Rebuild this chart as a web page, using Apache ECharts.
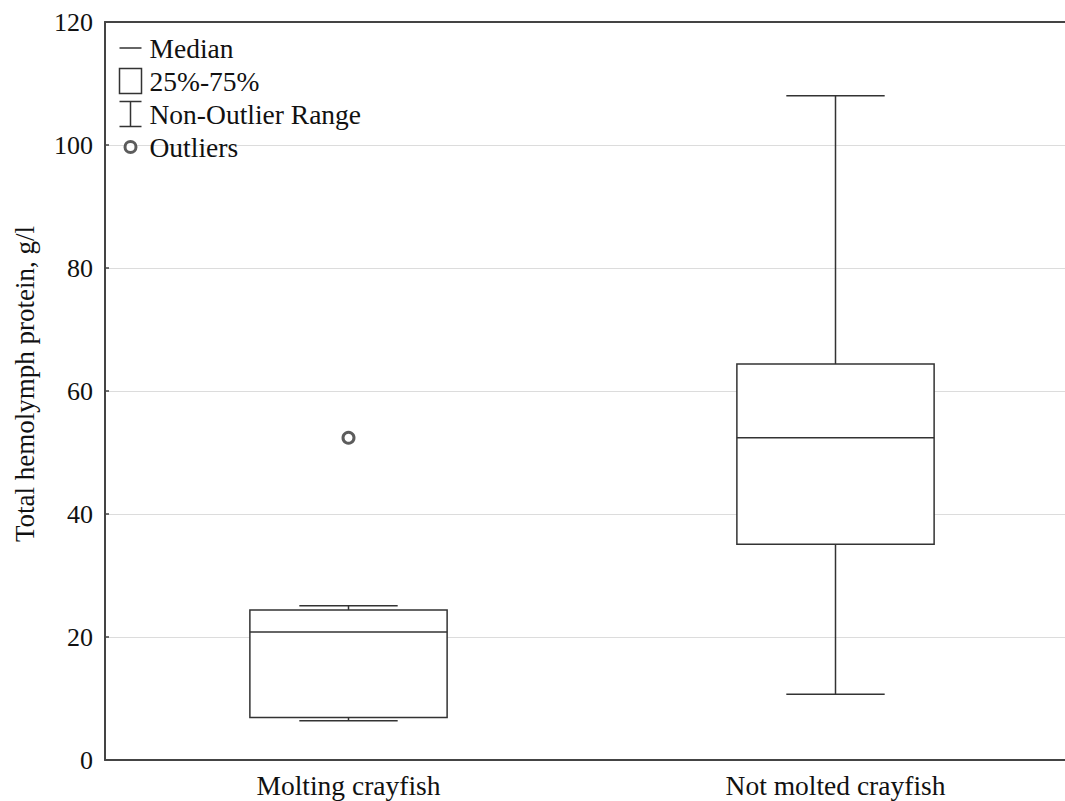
<!DOCTYPE html>
<html>
<head>
<meta charset="utf-8">
<script src="https://cdn.jsdelivr.net/npm/echarts@6/dist/echarts.min.js"></script>
<style>html,body{margin:0;padding:0;background:#fff;overflow:hidden;width:1065px;height:801px}#c{width:1079px;height:801px}</style>
</head>
<body>
<div id="c"></div>
<script>
// ---- data ----
var categories = ['Molting crayfish', 'Not molted crayfish'];
var lowWhisker = [6.4, 10.7];
var q1 = [6.9, 35.1];
var median = [20.8, 52.4];
var q3 = [24.4, 64.4];
var highWhisker = [25.1, 108.0];
var outlierCategory = [0];
var outlierValue = [52.4];
var yTicks = [0, 20, 40, 60, 80, 100, 120];

var FONT = 'Liberation Serif';
var INK = '#333';

var boxData = categories.map(function (c, i) {
  return [i, lowWhisker[i], q1[i], median[i], q3[i], highWhisker[i]];
});
var outlierData = outlierCategory.map(function (c, i) { return [c, outlierValue[i]]; });

function geom(api) {
  var cat = api.value(0);
  var band = api.size([1, 0])[0];
  return {
    cx: api.coord([cat, 0])[0],
    boxHalf: band * 0.2025,
    capHalf: band * 0.101,
    yLow: api.coord([cat, api.value(1)])[1],
    yQ1: api.coord([cat, api.value(2)])[1],
    yMed: api.coord([cat, api.value(3)])[1],
    yQ3: api.coord([cat, api.value(4)])[1],
    yHigh: api.coord([cat, api.value(5)])[1]
  };
}
var lineStyle = { stroke: INK, lineWidth: 1.5, fill: null };

var chart = echarts.init(document.getElementById('c'), null, { renderer: 'svg' });
chart.setOption({
  animation: false,
  backgroundColor: '#fff',
  grid: { left: 105, right: 0, top: 22, bottom: 41 },
  legend: {
    orient: 'vertical',
    left: 118,
    top: 34,
    padding: 0,
    itemWidth: 22,
    itemHeight: 25,
    itemGap: 5,
    selectedMode: false,
    textStyle: { fontFamily: FONT, fontSize: 27.5, color: '#111', lineHeight: 25, padding: [0, 0, 0, 3] },
    data: [
      { name: 'Median', icon: 'path://M0,0M0,12.5L22,12.5M22,25', itemStyle: { color: 'transparent', borderColor: INK, borderWidth: 1.5 } },
      { name: '25%-75%', icon: 'rect', itemStyle: { color: '#fff', borderColor: INK, borderWidth: 1.5 } },
      { name: 'Non-Outlier Range', icon: 'path://M0,0L22,0M11,0L11,25M0,25L22,25', itemStyle: { color: 'transparent', borderColor: INK, borderWidth: 1.5 } },
      { name: 'Outliers', icon: 'path://M0,0M22,25M16.5,12.5A5.5,5.5,0,1,1,5.5,12.5A5.5,5.5,0,1,1,16.5,12.5Z', itemStyle: { color: '#fff', borderColor: INK, borderWidth: 3 } }
    ]
  },
  xAxis: [{
    type: 'category',
    data: categories,
    position: 'bottom',
    axisLine: { lineStyle: { color: '#444', width: 2 } },
    axisTick: { inside: true, length: 4, alignWithLabel: true, lineStyle: { color: '#444', width: 1.5 } },
    axisLabel: { margin: 11, fontFamily: FONT, fontSize: 27.5, color: '#111' },
    splitLine: { show: false }
  }, {
    type: 'category',
    data: categories,
    position: 'top',
    axisLine: { lineStyle: { color: '#444', width: 2 } },
    axisTick: { inside: true, length: 4, alignWithLabel: true, lineStyle: { color: '#444', width: 1.5 } },
    axisLabel: { show: false },
    splitLine: { show: false }
  }],
  yAxis: {
    type: 'value',
    min: yTicks[0],
    max: yTicks[yTicks.length - 1],
    interval: yTicks[1] - yTicks[0],
    name: 'Total hemolymph protein, g/l',
    nameLocation: 'middle',
    nameGap: 67,
    nameTextStyle: { fontFamily: FONT, fontSize: 27, color: '#111', padding: [0, 0, 0, 14] },
    axisLine: { show: true, lineStyle: { color: '#444', width: 2 } },
    axisTick: { show: true, inside: true, length: 4, lineStyle: { color: '#444', width: 1.5 } },
    axisLabel: { margin: 12, fontFamily: FONT, fontSize: 26, color: '#111' },
    splitLine: { show: true, lineStyle: { color: '#dcdcdc', width: 1.2 } }
  },
  series: [{
    name: 'Non-Outlier Range',
    type: 'custom',
    z: 2,
    itemStyle: { color: INK },
    data: boxData,
    renderItem: function (params, api) {
      var g = geom(api);
      return { type: 'group', children: [
        { type: 'line', shape: { x1: g.cx, y1: g.yHigh, x2: g.cx, y2: g.yQ3 }, style: lineStyle },
        { type: 'line', shape: { x1: g.cx, y1: g.yQ1, x2: g.cx, y2: g.yLow }, style: lineStyle },
        { type: 'line', shape: { x1: g.cx - g.capHalf, y1: g.yHigh, x2: g.cx + g.capHalf, y2: g.yHigh }, style: lineStyle },
        { type: 'line', shape: { x1: g.cx - g.capHalf, y1: g.yLow, x2: g.cx + g.capHalf, y2: g.yLow }, style: lineStyle }
      ] };
    }
  }, {
    name: '25%-75%',
    type: 'custom',
    z: 3,
    itemStyle: { color: '#fff' },
    data: boxData,
    renderItem: function (params, api) {
      var g = geom(api);
      return { type: 'rect', shape: { x: g.cx - g.boxHalf, y: g.yQ3, width: 2 * g.boxHalf, height: g.yQ1 - g.yQ3 },
        style: { fill: '#fff', stroke: INK, lineWidth: 1.5 } };
    }
  }, {
    name: 'Median',
    type: 'custom',
    z: 4,
    itemStyle: { color: INK },
    data: boxData,
    renderItem: function (params, api) {
      var g = geom(api);
      return { type: 'line', shape: { x1: g.cx - g.boxHalf, y1: g.yMed, x2: g.cx + g.boxHalf, y2: g.yMed }, style: lineStyle };
    }
  }, {
    name: 'Outliers',
    type: 'scatter',
    z: 5,
    symbol: 'circle',
    symbolSize: 11,
    itemStyle: { color: '#fff', borderColor: INK, borderWidth: 3 },
    data: outlierData
  }]
});
</script>
</body>
</html>
